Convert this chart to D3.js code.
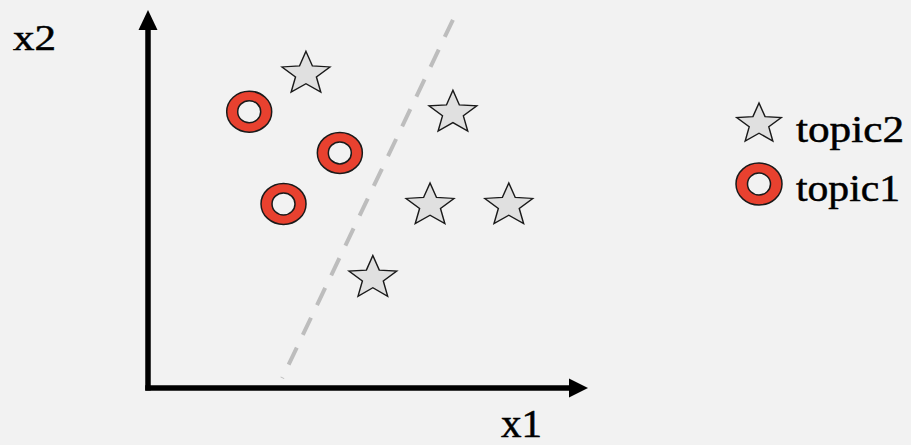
<!DOCTYPE html>
<html>
<head>
<meta charset="utf-8">
<script src="https://cdn.jsdelivr.net/npm/d3@7"></script>
<style>
  html, body { margin: 0; padding: 0; background: #f2f2f2; }
  svg { display: block; }
  text { font-family: "Liberation Serif", "DejaVu Serif", serif; fill: #000; stroke: #000; stroke-width: 0.5px; }
</style>
</head>
<body>
<div id="chart"></div>
<script>
// points, in axis units (0..100 on both axes)
var topic2_x = [35.9, 69.3, 64.1, 82.0, 51.1]
var topic2_y = [83.1, 72.8, 48.3, 48.3, 29.1]
var topic1_x = [23.0, 43.6, 30.8]
var topic1_y = [73.1, 62.2, 48.7]

// dashed separating line, two ends
var boundary_x = [69.3, 30.5]
var boundary_y = [97.4, 2.6]

var legend_labels = ["topic2", "topic1"]
var axis_labels = ["x1", "x2"]

var width = 911, height = 445

var svg = d3.select("#chart")
    .append("svg")
    .attr("width", width)
    .attr("height", height)

svg.append("rect")
    .attr("width", width)
    .attr("height", height)
    .attr("fill", "#f2f2f2")

var x = d3.scaleLinear()
    .domain([0, 100])
    .range([148, 588])

var y = d3.scaleLinear()
    .domain([0, 100])
    .range([388, 10])

// picture is a bit stretched sideways
var stretch = 1.12

var starPath = function(R, r) {
    var pts = []
    for (var i = 0; i < 10; i++) {
        var a = i * Math.PI / 5
        pts.push([a, i % 2 === 0 ? R : r])
    }
    return d3.lineRadial().curve(d3.curveLinearClosed)(pts)
}

var ringPath = function(rxo, ryo, rxi, ryi) {
    var e = function(rx, ry) {
        return "M" + (-rx) + ",0A" + rx + "," + ry + " 0 1,0 " + rx + ",0A" + rx + "," + ry + " 0 1,0 " + (-rx) + ",0Z"
    }
    return e(rxo, ryo) + e(rxi, ryi)
}

var star_d = starPath(22.5, 9.8)
var ring_d = ringPath(22.5, 20.5, 11.5, 11)

// boundary
svg.append("line")
    .attr("x1", x(boundary_x[0]))
    .attr("y1", y(boundary_y[0]))
    .attr("x2", x(boundary_x[1]))
    .attr("y2", y(boundary_y[1]))
    .attr("stroke", "#bdbdbd")
    .attr("stroke-width", 4)
    .attr("stroke-dasharray", "19,14")

// axes with arrows
var x0 = x.range()[0], x1 = x.range()[1]
var y0 = y.range()[0], y1 = y.range()[1]

svg.append("path")
    .attr("d", "M" + x0 + "," + (y0 + 2.5) + "V" + (y1 + 16))
    .attr("stroke", "#000")
    .attr("stroke-width", 5.5)
    .attr("fill", "none")
svg.append("path")
    .attr("d", "M" + x0 + "," + y1 + "L" + (x0 + 9.5) + "," + (y1 + 20) + "L" + (x0 - 9.5) + "," + (y1 + 20) + "Z")
    .attr("fill", "#000")

svg.append("path")
    .attr("d", "M" + (x0 - 2.75) + "," + y0 + "H" + (x1 - 16))
    .attr("stroke", "#000")
    .attr("stroke-width", 5.5)
    .attr("fill", "none")
svg.append("path")
    .attr("d", "M" + x1 + "," + y0 + "L" + (x1 - 19) + "," + (y0 - 9.5) + "L" + (x1 - 19) + "," + (y0 + 9.5) + "Z")
    .attr("fill", "#000")

svg.append("text")
    .attr("x", 501)
    .attr("y", 437)
    .attr("font-size", 39)
    .attr("textLength", 41)
    .attr("lengthAdjust", "spacingAndGlyphs")
    .text(axis_labels[0])

svg.append("text")
    .attr("x", 13)
    .attr("y", 50)
    .attr("font-size", 35)
    .attr("textLength", 43)
    .attr("lengthAdjust", "spacingAndGlyphs")
    .text(axis_labels[1])

// points
var stars = topic2_x.map(function(d, i) { return {x: d, y: topic2_y[i]} })
var rings = topic1_x.map(function(d, i) { return {x: d, y: topic1_y[i]} })

svg.append("g")
    .selectAll(".star")
    .data(stars)
    .enter()
    .append("path")
    .attr("class", "star")
    .attr("d", star_d)
    .attr("transform", function(d) { return "translate(" + x(d.x) + "," + y(d.y) + ") scale(" + stretch + ",1)" })
    .attr("fill", "#e0e0e0")
    .attr("stroke", "#1a1a1a")
    .attr("stroke-width", 1.3)

svg.append("g")
    .selectAll(".ring")
    .data(rings)
    .enter()
    .append("path")
    .attr("class", "ring")
    .attr("d", ring_d)
    .attr("fill-rule", "evenodd")
    .attr("transform", function(d) { return "translate(" + x(d.x) + "," + y(d.y) + ")" })
    .attr("fill", "#e8412f")
    .attr("stroke", "#1a1a1a")
    .attr("stroke-width", 1.5)

// legend
var legend = svg.append("g")
var legendY = [124, 184]
var legendW = [108, 104]

legend.selectAll(".lg")
    .data(legend_labels)
    .enter()
    .append("g")
    .attr("class", "lg")
    .attr("transform", function(d, i) { return "translate(759," + legendY[i] + ")" })
    .each(function(d, i) {
        var g = d3.select(this)
        if (d === "topic2") {
            g.append("path")
                .attr("d", starPath(21, 9.2))
                .attr("transform", "scale(" + stretch + ",1)")
                .attr("fill", "#e0e0e0")
                .attr("stroke", "#1a1a1a")
                .attr("stroke-width", 1.3)
        } else {
            g.append("path")
                .attr("d", ringPath(23, 21, 11.5, 11))
                .attr("fill-rule", "evenodd")
                .attr("fill", "#e8412f")
                .attr("stroke", "#1a1a1a")
                .attr("stroke-width", 1.5)
        }
        g.append("text")
            .attr("x", 37)
            .attr("y", i === 0 ? 18 : 17)
            .attr("font-size", 37)
            .attr("textLength", legendW[i])
            .attr("lengthAdjust", "spacingAndGlyphs")
            .text(d)
    })
</script>
</body>
</html>
